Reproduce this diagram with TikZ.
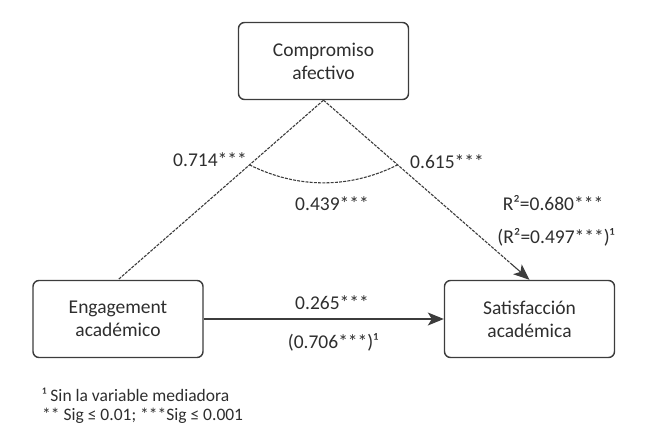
\documentclass[tikz,border=0pt]{standalone}
\usepackage{fontspec}
\setmainfont{Carlito}
\usetikzlibrary{arrows.meta,calc}
\definecolor{ink}{HTML}{2E2E2E}
\definecolor{edge}{HTML}{3C3C3C}
\begin{document}
\begin{tikzpicture}[x=1pt,y=-1pt,
  varbox/.style={draw=edge,line width=1.4pt,rounded corners=6pt,minimum width=170pt,minimum height=77pt,align=center,text=ink,font=\fontsize{19.5}{23}\selectfont,inner sep=0pt},
  lab/.style={text=ink,font=\fontsize{19.5}{23}\selectfont,inner sep=0pt},
  foot/.style={text=ink,font=\fontsize{17.5}{20}\selectfont,inner sep=0pt,anchor=west},
  dashline/.style={draw=edge,line width=1.1pt,dash pattern=on 3pt off 1.2pt},
  tip/.style={-{Stealth[length=16pt,width=13pt,inset=4pt,sep=0pt]}}
]
\useasboundingbox (0,0) rectangle (650,444);
\node[varbox] (C) at (323.5,61) {Compromiso\\afectivo};
\node[varbox] (E) at (118,319) {Engagement\\académico};
\node[varbox] (S) at (529.5,319) {Satisfacción\\académica};
\coordinate (tipstart) at ($(S.north)!24pt!(C.south)$);
\draw[dashline] (C.south) -- (E.north);
\draw[dashline] (C.south) -- (tipstart);
\draw[edge,line width=1.1pt,tip] (tipstart) -- (S.north);
\draw[edge,line width=1.2pt,tip] (E.east) -- (S.west);
\coordinate (aL) at ($(C.south)!0.36!(E.north)$);
\coordinate (aR) at ($(C.south)!0.36!(S.north)$);
\draw[dashline] (aL) .. controls ($(aL)+(48,24)$) and ($(aR)+(-48,24)$) .. (aR);
\node[lab] (l1) at (210,160) {0.714***};
\node[lab] (l2) at (447,162) {0.615***};
\node[lab] (l3) at (332,204) {0.439***};
\node[lab] (l4) at (553,203) {R²=0.680***};
\node[lab] (l5) at (556,237) {(R²=0.497***)¹};
\node[lab] (l6) at (332,303) {0.265***};
\node[lab] (l7) at (333,342) {(0.706***)¹};
\node[foot] (f1) at (42,395) {¹ Sin la variable mediadora};
\node[foot] (f2) at (42,416) {** Sig ≤ 0.01; ***Sig ≤ 0.001};
\end{tikzpicture}
\end{document}
